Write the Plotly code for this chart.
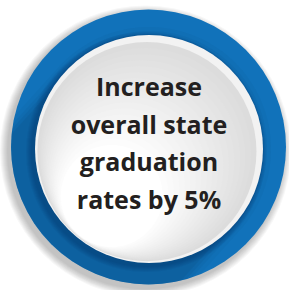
import numpy as np
import plotly.graph_objects as go

# ---- content ----
text_lines = ["Increase", "overall state", "graduation", "rates by 5%"]

# ---- styling / geometry (layout, not data) ----
W, H = 289, 290
CX, CY = 148.5, 147.0
R_OUT = 137.5
ICX, ICY = 149.0, 149.0
R_IN = 114.0
BLUE = "#1172ba"
SHADOW_BLUE = "#083f6e"
TEXT_COLOR = "#231f20"


def circle_poly(cx, cy, r, n=240):
    t = np.linspace(0, 2 * np.pi, n, endpoint=False)
    return np.column_stack([cx + r * np.cos(t), cy + r * np.sin(t)])


def stadium(cx, cy, r, dx, dy, length, n=120):
    d = np.array([dx, dy]) / np.hypot(dx, dy)
    ang = np.arctan2(d[1], d[0])
    t1 = np.linspace(ang + np.pi / 2, ang + 3 * np.pi / 2, n)
    p1 = np.column_stack([cx + r * np.cos(t1), cy + r * np.sin(t1)])
    ex, ey = cx + d[0] * length, cy + d[1] * length
    t2 = np.linspace(ang - np.pi / 2, ang + np.pi / 2, n)
    p2 = np.column_stack([ex + r * np.cos(t2), ey + r * np.sin(t2)])
    return np.vstack([p1, p2])


def clip(subject, clipper):
    def inside(p, a, b, s):
        return s * ((b[0] - a[0]) * (p[1] - a[1]) - (b[1] - a[1]) * (p[0] - a[0])) >= 0

    def inter(p1, p2, a, b):
        x1, y1 = p1; x2, y2 = p2; x3, y3 = a; x4, y4 = b
        den = (x1 - x2) * (y3 - y4) - (y1 - y2) * (x3 - x4)
        t = ((x1 - x3) * (y3 - y4) - (y1 - y3) * (x3 - x4)) / den
        return (x1 + t * (x2 - x1), y1 + t * (y2 - y1))

    area = 0.0
    for i in range(len(clipper)):
        x1, y1 = clipper[i]; x2, y2 = clipper[(i + 1) % len(clipper)]
        area += x1 * y2 - x2 * y1
    s = 1 if area > 0 else -1
    out = [tuple(p) for p in subject]
    for i in range(len(clipper)):
        a = clipper[i]; b = clipper[(i + 1) % len(clipper)]
        inp = out; out = []
        if not inp:
            break
        prev = inp[-1]
        for cur in inp:
            if inside(cur, a, b, s):
                if not inside(prev, a, b, s):
                    out.append(inter(prev, cur, a, b))
                out.append(cur)
            elif inside(prev, a, b, s):
                out.append(inter(prev, cur, a, b))
            prev = cur
    return np.array(out)


def path_of(poly):
    return "M " + " L ".join(f"{x:.2f},{y:.2f}" for x, y in poly) + " Z"


shapes = []

# soft grey drop shadow outside the blue disc (toward lower-left)
for k in range(8, 0, -1):
    shapes.append(dict(type="circle", xref="x", yref="y",
                       x0=CX - R_OUT - k - 3, x1=CX + R_OUT + k - 3,
                       y0=CY - R_OUT - k + 4, y1=CY + R_OUT + k + 4,
                       fillcolor="rgba(0,0,0,0.03)", line=dict(width=0), layer="below"))

# blue outer disc
shapes.append(dict(type="circle", xref="x", yref="y",
                   x0=CX - R_OUT, x1=CX + R_OUT, y0=CY - R_OUT, y1=CY + R_OUT,
                   fillcolor=BLUE, line=dict(width=0), layer="below"))

# long shadow on the blue ring, cast toward lower-left
outer_poly = circle_poly(CX, CY, R_OUT - 0.3)
for rr, op in [(R_IN + 8, 0.06), (R_IN + 4, 0.08), (R_IN + 1, 0.10), (R_IN - 2, 0.12)]:
    st = stadium(ICX, ICY, rr, -0.95, 1.05, 200)
    poly = clip(st, outer_poly)
    shapes.append(dict(type="path", xref="x", yref="y", path=path_of(poly),
                       fillcolor=SHADOW_BLUE, opacity=op, line=dict(width=0), layer="below"))
for k in range(6):
    shapes.append(dict(type="circle", xref="x", yref="y",
                       x0=ICX - R_IN - 6 + k - 3, x1=ICX + R_IN + 6 - k - 3,
                       y0=ICY - R_IN - 6 + k + 3, y1=ICY + R_IN + 6 - k + 3,
                       fillcolor="rgba(5,40,80,0.06)", line=dict(width=0), layer="below"))

# inner disc: grey toward top/right rim, white toward lower-left
shapes.append(dict(type="circle", xref="x", yref="y",
                   x0=ICX - R_IN, x1=ICX + R_IN, y0=ICY - R_IN, y1=ICY + R_IN,
                   fillcolor="#f2f2f2", line=dict(width=0), layer="below"))
d = np.array([-0.62, 0.78])
n = 18
for i in range(n):
    f = (i + 1) / n
    shrink = f * 62
    r = R_IN - 1.0 - shrink
    ox, oy = d * shrink * 0.97
    g = int(218 + f * 37)
    shapes.append(dict(type="circle", xref="x", yref="y",
                       x0=ICX + ox - r, x1=ICX + ox + r, y0=ICY + oy - r, y1=ICY + oy + r,
                       fillcolor=f"rgb({g},{g},{g})", line=dict(width=0), layer="below"))

fig = go.Figure()

LINE_Y0, LINE_DY = 90.0, 37.5
fig.add_trace(go.Scatter(
    x=[ICX] * len(text_lines),
    y=[LINE_Y0 + i * LINE_DY for i in range(len(text_lines))],
    mode="text", text=text_lines, textposition="middle center",
    textfont=dict(family="Open Sans", size=25, color=TEXT_COLOR, weight=700),
    hoverinfo="skip", showlegend=False,
))

fig.update_layout(
    width=W, height=H, margin=dict(l=0, r=0, t=0, b=0),
    paper_bgcolor="white", plot_bgcolor="white",
    xaxis=dict(range=[0, W], visible=False, fixedrange=True),
    yaxis=dict(range=[H, 0], visible=False, fixedrange=True),
    shapes=shapes, showlegend=False,
)
fig.write_html("out.html", config={"displayModeBar": False},
               post_script="document.body.style.margin='0';")
